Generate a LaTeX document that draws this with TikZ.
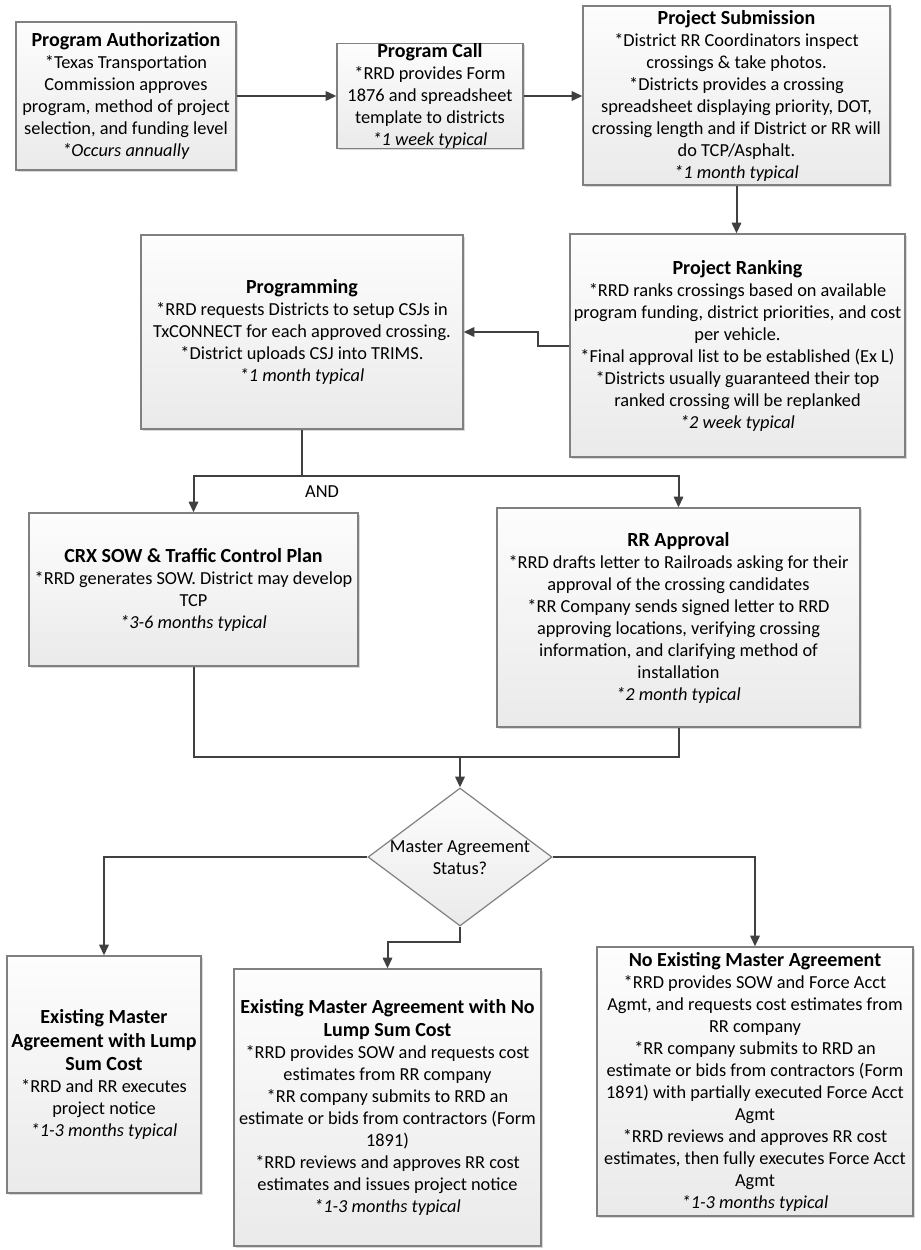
\documentclass[tikz,border=0pt]{standalone}
\usepackage{fontspec}
\setmainfont{Carlito}
\usetikzlibrary{arrows.meta,shapes.geometric,shadows}
\definecolor{boxedge}{RGB}{128,128,128}
\definecolor{boxtop}{RGB}{253,253,253}
\definecolor{boxbot}{RGB}{234,234,234}
\definecolor{conncol}{RGB}{64,64,64}
\newcommand\boxtitle[1]{{\fontsize{15}{16.5}\selectfont\bfseries #1}}
\begin{document}
\begin{tikzpicture}[x=0.75pt,y=-0.75pt,
  every node/.style={font=\fontsize{13.75}{16.5}\selectfont},
  box/.style={draw=boxedge,line width=0.9pt,top color=boxtop,bottom color=boxbot,
    inner sep=0pt,align=center,execute at begin node={\rule{0pt}{18pt}},
    drop shadow={shadow xshift=1.3pt,shadow yshift=-1.3pt,fill=black,opacity=0.15}},
  sz/.style 2 args={minimum width=#1*0.75pt,minimum height=#2*0.75pt},
  dia/.style={shape=diamond,draw=boxedge,line width=0.9pt,top color=boxtop,bottom color=boxbot,
    inner sep=0pt,minimum width=138pt,minimum height=103.5pt},
  conn/.style={draw=conncol,line width=1.5pt},
  arr/.style={conn,-{Triangle[length=8pt,width=7pt]}}]
\fill[white] (0,0) rectangle (921,1250);
\useasboundingbox (0,0) rectangle (921,1250);

\node[box,sz={220}{148}] (A) at (126,96) {\boxtitle{Program Authorization}\\{}*Texas Transportation\\Commission approves\\program, method of project\\selection, and funding level\\\textit{*Occurs annually}};
\node[box,sz={186}{104}] (B) at (430,96) {\boxtitle{Program Call}\\{}*RRD provides Form\\1876 and spreadsheet\\template to districts\\\textit{*1 week typical}};
\node[box,sz={307}{179}] (C) at (736.5,95.5) {\boxtitle{Project Submission}\\{}*District RR Coordinators inspect\\crossings \& take photos.\\{}*Districts provides a crossing\\spreadsheet displaying priority, DOT,\\crossing length and if District or RR will\\do TCP/Asphalt.\\\textit{*1 month typical}};
\node[box,sz={335}{223}] (D) at (737.5,345.5) {\boxtitle{Project Ranking}\\{}*RRD ranks crossings based on available\\program funding, district priorities, and cost\\per vehicle.\\{}*Final approval list to be established (Ex L)\\{}*Districts usually guaranteed their top\\ranked crossing will be replanked\\\textit{*2 week typical}};
\node[box,sz={322}{194}] (E) at (302,332) {\boxtitle{Programming}\\{}*RRD requests Districts to setup CSJs in\\TxCONNECT for each approved crossing.\\{}*District uploads CSJ into TRIMS.\\\textit{*1 month typical}};
\node[box,sz={329}{153}] (F) at (193.5,589.5) {\boxtitle{CRX SOW \& Traffic Control Plan}\\{}*RRD generates SOW. District may develop\\TCP\\\textit{*3-6 months typical}};
\node[box,sz={363}{219}] (G) at (678.5,617.5) {\boxtitle{RR Approval}\\{}*RRD drafts letter to Railroads asking for their\\approval of the crossing candidates\\{}*RR Company sends signed letter to RRD\\approving locations, verifying crossing\\information, and clarifying method of\\installation\\\textit{*2 month typical}};
\node[dia] (H) at (460,857) {};
\node[align=center] (Htext) at (460,858) {Master Agreement\\Status?};
\node[box,sz={194}{237}] (I) at (104,1074.5) {\boxtitle{Existing Master}\\[1.3pt]\boxtitle{Agreement with Lump}\\[1.3pt]\boxtitle{Sum Cost}\\{}*RRD and RR executes\\project notice\\\textit{*1-3 months typical}};
\node[box,sz={307}{277}] (J) at (387.5,1107.5) {\boxtitle{Existing Master Agreement with No}\\[1.3pt]\boxtitle{Lump Sum Cost}\\{}*RRD provides SOW and requests cost\\estimates from RR company\\{}*RR company submits to RRD an\\estimate or bids from contractors (Form\\1891)\\{}*RRD reviews and approves RR cost\\estimates and issues project notice\\\textit{*1-3 months typical}};
\node[box,sz={316}{269}] (K) at (755,1081.5) {\boxtitle{No Existing Master Agreement}\\{}*RRD provides SOW and Force Acct\\Agmt, and requests cost estimates from\\RR company\\{}*RR company submits to RRD an\\estimate or bids from contractors (Form\\1891) with partially executed Force Acct\\Agmt\\{}*RRD reviews and approves RR cost\\estimates, then fully executes Force Acct\\Agmt\\\textit{*1-3 months typical}};

\coordinate (split) at (302,476);
\coordinate (merge) at (460,757);
\node (andlbl) at (322,492) {AND};

\draw[arr] (A.east) -- (A.east -| B.west);
\draw[arr] (B.east) -- (B.east -| C.west);
\draw[arr] (C.south) -- (C.south |- D.north);
\draw[arr] (D.west) -- ++(-31,0) |- (E.east);
\draw[conn] (E.south) -- (split);
\draw[arr] (split) -| (F.north);
\draw[arr] (split) -| (G.north);
\draw[conn] (F.south) |- (merge);
\draw[conn] (G.south) |- (merge);
\draw[arr] (merge) -- (H.north);
\draw[arr] (H.west) -| (I.north);
\draw[arr] (H.south) -- ++(0,15) -| (J.north);
\draw[arr] (H.east) -| (K.north);
\end{tikzpicture}
\end{document}
